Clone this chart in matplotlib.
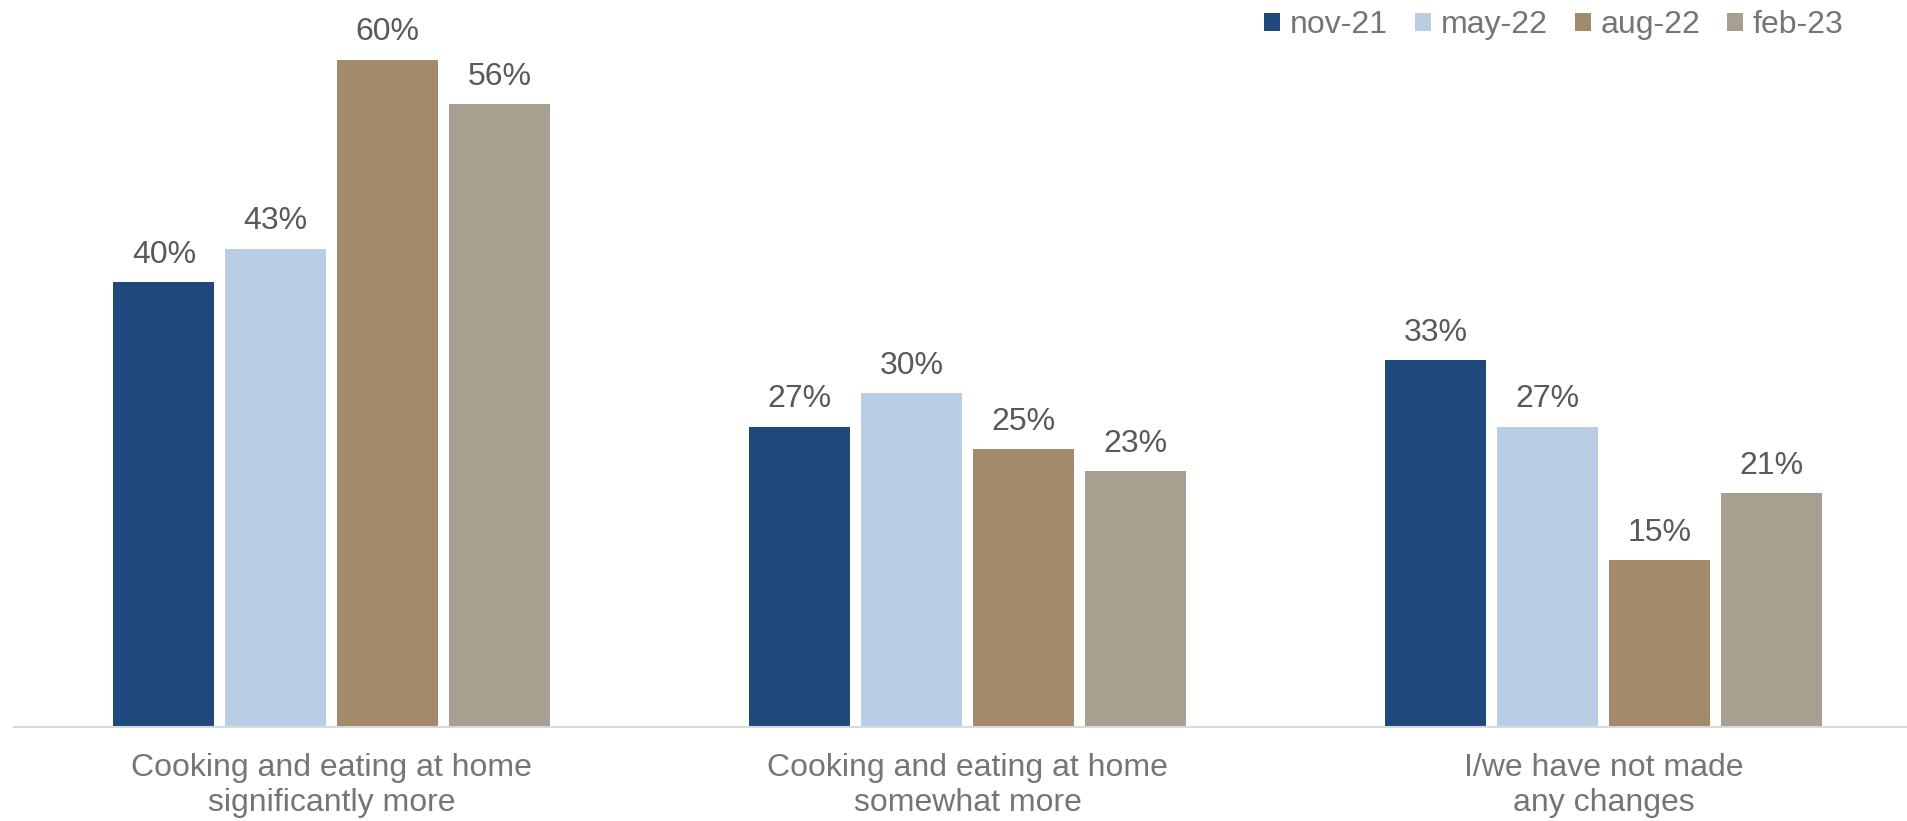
import numpy as np
import matplotlib.pyplot as plt
from matplotlib.patches import Patch

plt.rcParams["font.family"] = ["Liberation Sans", "DejaVu Sans"]

categories = ["Cooking and eating at home\nsignificantly more",
              "Cooking and eating at home\nsomewhat more",
              "I/we have not made\nany changes"]
series = ["nov-21", "may-22", "aug-22", "feb-23"]
nov_21 = [40, 27, 33]
may_22 = [43, 30, 27]
aug_22 = [60, 25, 15]
feb_23 = [56, 23, 21]
values = [nov_21, may_22, aug_22, feb_23]
colors = ["#1F497D", "#B9CDE5", "#A28A6A", "#A89F90"]

fig = plt.figure(figsize=(19.08, 8.21), dpi=100)
ax = fig.add_axes([0.0072, 0.1145, 1.0, 0.8806])

x = np.arange(len(categories))
width = 0.1586
step = 0.176
for i, (name, vals, col) in enumerate(zip(series, values, colors)):
    pos = x + (i - 1.5) * step
    ax.bar(pos, vals, width=width, color=col, label=name)
    for p, v in zip(pos, vals):
        ax.text(p, v + 1.1, f"{v}%", ha="center", va="bottom",
                fontsize=23, color="#595959")

ax.set_xlim(-0.5, 2.5)
ax.set_ylim(0, 65)
ax.set_yticks([])
ax.set_xticks(x)
ax.set_xticklabels(categories, fontsize=23, color="#757575", linespacing=1.2)
ax.tick_params(axis="x", length=0, pad=19)
for s in ["top", "right", "left"]:
    ax.spines[s].set_visible(False)
ax.spines["bottom"].set_color("#D9D9D9")
ax.spines["bottom"].set_linewidth(1.5)

handles = [Patch(facecolor=c, label=n) for n, c in zip(series, colors)]
leg = fig.legend(handles=handles, ncol=4, loc="upper right",
                 bbox_to_anchor=(0.973, 1.003), frameon=False, fontsize=23,
                 handlelength=0.5, handleheight=0.5, handletextpad=0.3,
                 columnspacing=0.85, borderaxespad=0.0)
for t in leg.get_texts():
    t.set_color("#757575")

fig.savefig("out.png", dpi=100)
